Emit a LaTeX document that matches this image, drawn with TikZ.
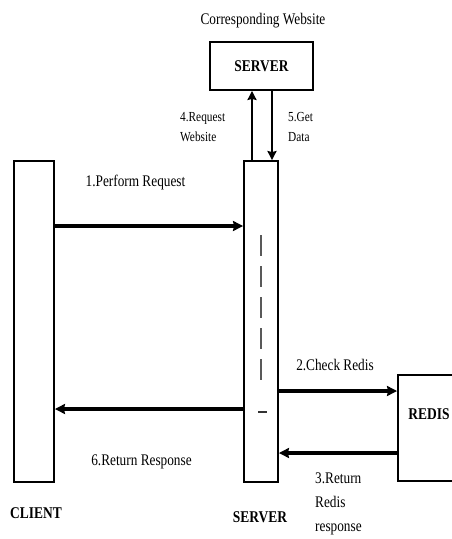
\documentclass[tikz,border=0pt]{standalone}
\usepackage{fontspec}
\setmainfont{Liberation Serif}[FakeStretch=0.82]
\usetikzlibrary{arrows.meta}

\begin{document}
\begin{tikzpicture}[x=1pt, y=-1pt, >={Stealth[length=10pt, width=10pt, inset=1pt]},
    box/.style={draw, line width=1.9pt, inner sep=0pt},
    msg/.style={->, line width=3.2pt},
    txt/.style={font=\fontsize{16.2}{18}\selectfont, inner sep=0pt},
    smalltxt/.style={font=\fontsize{13.8}{20}\selectfont, align=left, inner sep=0pt},
    boldtxt/.style={font=\fontsize{16.4}{18}\selectfont\bfseries, inner sep=0pt}]
    \useasboundingbox (0,0) rectangle (452,539);

    % --- Top: corresponding website server ---
    \node[txt] (title) at (263,21) {Corresponding Website};
    \node[box, minimum width=103pt, minimum height=48pt, boldtxt] (web) at (261.5,66) {SERVER};

    % --- Lifelines ---
    \node[box, minimum width=40pt, minimum height=321pt] (client) at (34,321.5) {};
    \node[box, minimum width=34pt, minimum height=321pt] (srv) at (261,321.5) {};
    \node[box, minimum width=62pt, minimum height=106pt] (redis) at (429,428) {};
    \node[boldtxt] (redislbl) at ([yshift=14pt]redis.center) {REDIS};

    % --- Dashed activity mark inside the server ---
    \draw[line width=1.5pt, black!65, dash pattern=on 21pt off 10pt] (261,235) -- (261,382);
    \draw[line width=1.3pt, black!80] (258,412) -- (267,412);

    % --- Requests to the website ---
    \draw[->, line width=2.6pt, >={Stealth[length=9pt, width=9pt, inset=1pt]}]
        ([xshift=-9pt]srv.north) -- ([xshift=-9pt]srv.north |- web.south);
    \draw[->, line width=2.6pt, >={Stealth[length=9pt, width=9pt, inset=1pt]}]
        ([xshift=11pt]srv.north |- web.south) -- ([xshift=11pt]srv.north);
    \node[smalltxt, anchor=west] (req) at (180,127) {4.Request\\Website};
    \node[smalltxt, anchor=west] (get) at (288,127) {5.Get\\Data};

    % --- Messages ---
    \draw[msg] (client.east |- 0,226) -- (srv.west |- 0,226);
    \node[txt] (perform) at (135.5,183) {1.Perform Request};

    \draw[msg] (srv.east |- 0,391) -- (redis.west |- 0,391);
    \node[txt] (check) at (335,365) {2.Check Redis};

    \draw[msg] (redis.west |- 0,453) -- (srv.east |- 0,453);
    \node[smalltxt, font=\fontsize{16.2}{24}\selectfont, anchor=west] (ret) at (315,504) {3.Return\\Redis\\response};

    \draw[msg] (srv.west |- 0,409) -- (client.east |- 0,409);
    \node[txt] (resp) at (141.5,462) {6.Return Response};

    % --- Participant names ---
    \node[boldtxt] (clientlbl) at (36,513) {CLIENT};
    \node[boldtxt] (srvlbl) at (260,517) {SERVER};
\end{tikzpicture}
\end{document}
